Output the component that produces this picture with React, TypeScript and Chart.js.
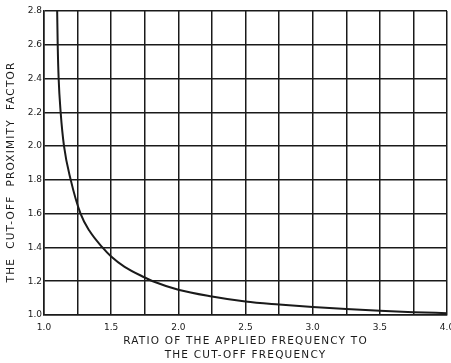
import React, { useEffect, useRef } from 'react';
import { Chart, registerables } from 'chart.js';

Chart.register(...registerables);

const freqRatio = [1.098, 1.102, 1.109, 1.124, 1.149, 1.199, 1.272, 1.337, 1.435, 1.5, 1.6, 1.75, 1.81, 2.0, 2.25, 2.5, 2.75, 3.0, 3.25, 3.5, 3.75, 4.0];
const proximityFactor = [2.8, 2.6, 2.4, 2.2, 2.0, 1.8, 1.6, 1.5, 1.4, 1.346, 1.285, 1.222, 1.2, 1.15, 1.11, 1.08, 1.062, 1.047, 1.035, 1.025, 1.017, 1.011];
const xTickLabels = ['1.0', '1.5', '2.0', '2.5', '3.0', '3.5', '4.0'];
const xTitle = ['RATIO OF THE APPLIED FREQUENCY TO', 'THE CUT-OFF FREQUENCY'];
const yTitle = 'THE  CUT-OFF  PROXIMITY  FACTOR';

const FONT = 'DejaVu Sans';
const INK = '#1a1a1a';

function spaceTitle(s: any, dy: number) {
  if (s.__spaced) return;
  s.__spaced = true;
  const orig = s.drawTitle;
  s.drawTitle = function (...args: any[]) {
    const ctx = this.ctx as any;
    ctx.save();
    ctx.letterSpacing = '1.2px';
    ctx.translate(0, dy);
    orig.apply(this, args);
    ctx.restore();
  };
}

export default function App() {
  const ref = useRef<HTMLCanvasElement | null>(null);

  useEffect(() => {
    if (!ref.current) return;
    const chart = new Chart(ref.current, {
      type: 'scatter',
      data: {
        datasets: [
          {
            data: freqRatio.map((x, i) => ({ x, y: proximityFactor[i] })),
            showLine: true,
            borderColor: INK,
            borderWidth: 2,
            pointRadius: 0,
            cubicInterpolationMode: 'monotone',
            fill: false,
          },
        ],
      },
      options: {
        animation: false,
        responsive: false,
        devicePixelRatio: 1,
        layout: { padding: { top: 11, right: 4, left: 0, bottom: 0 } },
        plugins: { legend: { display: false }, tooltip: { enabled: false } },
        scales: {
          x: {
            type: 'linear',
            min: 1,
            max: 4,
            ticks: {
              stepSize: 0.25,
              autoSkip: false,
              maxRotation: 0,
              color: INK,
              font: { family: FONT, size: 9 },
              padding: 7,
              callback: (v: any) => {
                const n = Number(v);
                const idx = Math.round((n - 1) * 2);
                return Math.abs((n - 1) * 2 - idx) < 1e-6 ? xTickLabels[idx] : '';
              },
            },
            grid: { color: INK, lineWidth: 1.5, drawTicks: false },
            border: { color: INK, width: 1.5 },
            title: {
              display: true,
              text: xTitle,
              color: INK,
              font: { family: FONT, size: 10.5, lineHeight: 1.3 },
              padding: { top: 2, bottom: 1 },
            },
            afterFit: (s: any) => {
              s.height = 48;
              s.paddingLeft = 0;
              s.paddingRight = 0;
              spaceTitle(s, 0);
            },
          },
          y: {
            type: 'linear',
            min: 1,
            max: 2.8,
            ticks: {
              stepSize: 0.2,
              color: INK,
              font: { family: FONT, size: 9 },
              padding: 2,
              callback: (v: any) => Number(v).toFixed(1),
            },
            grid: { color: INK, lineWidth: 1.5, drawTicks: false },
            border: { color: INK, width: 1.5 },
            title: {
              display: true,
              text: yTitle,
              color: INK,
              font: { family: FONT, size: 10.5 },
              padding: { top: 5, bottom: 2 },
            },
            afterFit: (s: any) => {
              s.width = 44;
              s.paddingTop = 0;
              s.paddingBottom = 0;
              spaceTitle(s, 9);
            },
          },
        },
      },
    });
    return () => chart.destroy();
  }, []);

  return (
    <div style={{ position: 'absolute', left: 0, top: 0, width: 451, height: 363, background: '#fff' }}>
      <canvas ref={ref} width={451} height={363} style={{ display: 'block' }} />
    </div>
  );
}
